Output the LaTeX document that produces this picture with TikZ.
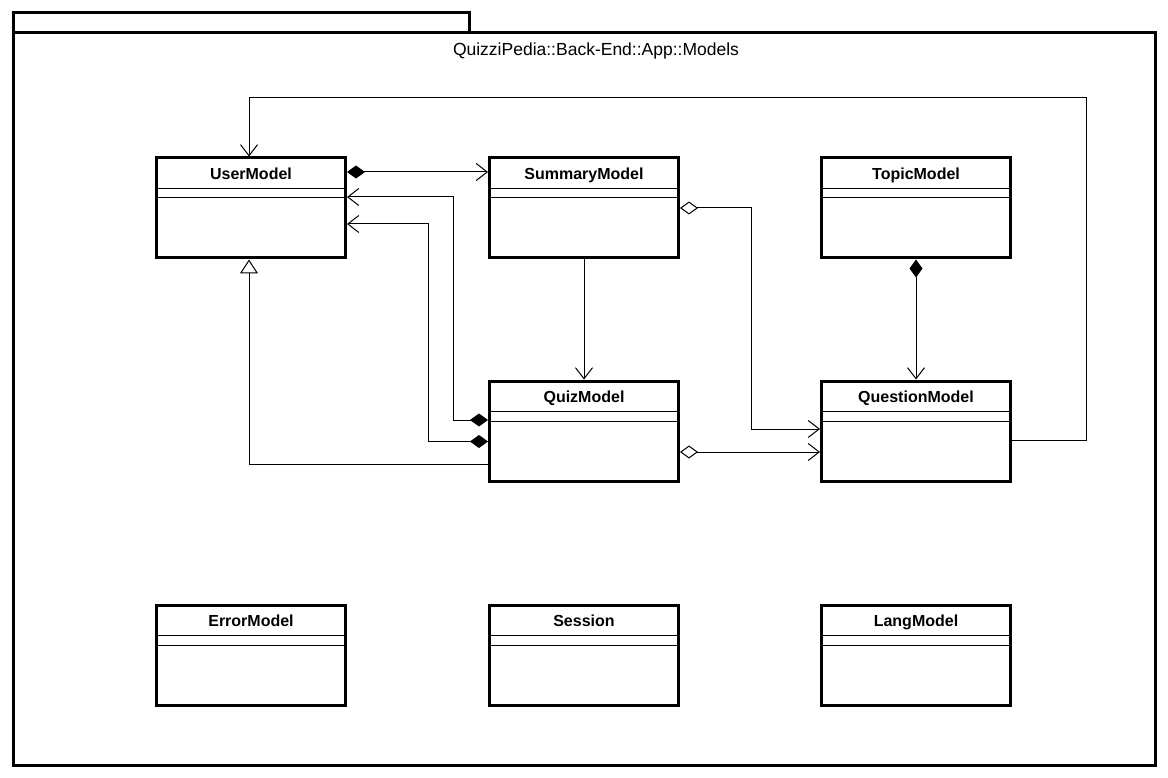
\documentclass[tikz,border=0pt]{standalone}
\usepackage{fontspec}
\setmainfont{Liberation Sans}
\usepackage{tikz}
\usetikzlibrary{arrows.meta}
\tikzset{
  pkg/.style={draw=black, line width=3pt, line join=miter},
  umlclass/.style={draw=black, line width=3pt, rectangle, minimum width=189pt, minimum height=100pt, inner sep=0pt},
  cname/.style={font=\fontsize{16}{19}\selectfont\bfseries, inner sep=0pt, anchor=base},
  ptitle/.style={font=\fontsize{17.5}{20}\selectfont, inner sep=0pt},
  sep/.style={draw=black, line width=1pt},
  assoc/.style={draw=black, line width=1pt, -{Straight Barb[length=11pt,width=17pt]}},
  comp/.style={assoc, {Diamond[length=18pt,width=13pt]}-{Straight Barb[length=11pt,width=17pt]}},
  agg/.style={assoc, {Diamond[open,fill=white,length=18pt,width=13pt]}-{Straight Barb[length=11pt,width=17pt]}},
  gen/.style={draw=black, line width=1pt, -{Triangle[open,fill=white,length=14pt,width=18pt]}},
}
\begin{document}
\begin{tikzpicture}[x=1pt, y=-1pt]
  \useasboundingbox (0,0) rectangle (1168,778);
  % package frame
  \draw[pkg] (13,13) rectangle (469,33);
  \draw[pkg] (13,33) rectangle (1155,765);
  \node[ptitle] (pkgtitle) at (596,51) {QuizziPedia::Back-End::App::Models};
  % classes
  \foreach \n/\t/\x/\y in {user/UserModel/251/208, summary/SummaryModel/584/208,
      topic/TopicModel/916/208, quiz/QuizModel/584/431, question/QuestionModel/916/431,
      error/ErrorModel/251/655, session/Session/584/655, lang/LangModel/916/655} {
    \node[umlclass] (\n) at (\x,\y) {};
    \node[cname] (\n-name) at ([yshift=-23pt]\n.north) {\t};
    \draw[sep] ([yshift=-32pt]\n.north west) -- ([yshift=-32pt]\n.north east);
    \draw[sep] ([yshift=-41.5pt]\n.north west) -- ([yshift=-41.5pt]\n.north east);
  }
  \coordinate (loop) at (1086,98);
  % relations
  \draw[comp] ([yshift=36pt]user.east) -- ([yshift=36pt]user.east -| summary.west);
  \draw[comp] ([yshift=11pt]quiz.west) -- ++(-35,0) |- ([yshift=11pt]user.east);
  \draw[comp] ([yshift=-10.5pt]quiz.west) -- ++(-60,0) |- ([yshift=-16pt]user.east);
  \draw[gen] ([yshift=-33pt]quiz.west) -| ([xshift=-2pt]user.south);
  \draw[assoc] (summary.south) -- (quiz.north);
  \draw[agg] (summary.east) -- ++(71,0) |- ([yshift=2pt]question.west);
  \draw[agg] ([yshift=-21pt]quiz.east) -- ([yshift=-21pt]quiz.east -| question.west);
  \draw[comp] (topic.south) -- (question.north);
  \draw[assoc] ([yshift=-9pt]question.east) -| (loop) -| ([xshift=-2pt]user.north);
\end{tikzpicture}
\end{document}
